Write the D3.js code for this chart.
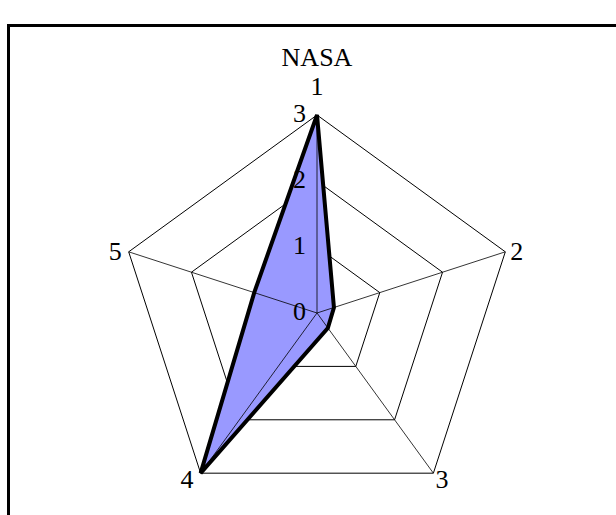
<!DOCTYPE html>
<html>
<head>
<meta charset="utf-8">
<script src="https://cdn.jsdelivr.net/npm/d3@7"></script>
<style>
  body { margin: 0; background: #fff; }
  svg text { font-family: "Liberation Serif", "Times New Roman", serif; fill: #000; }
</style>
</head>
<body>
<script>
const categories = ['1', '2', '3', '4', '5'];
const values = [3, 0.27, 0.28, 3, 1];
const ticks = [0, 1, 2, 3];
const title = 'NASA';

const width = 616;
const height = 515;
const cx = 317, cy = 313, radius = 198;
const fontSize = 26;

const svg = d3.select('body').append('svg')
    .attr('width', width)
    .attr('height', height);

// outer frame (runs off the right and bottom edges)
svg.append('rect')
    .attr('x', 8.5).attr('y', 25.5)
    .attr('width', 700).attr('height', 600)
    .attr('fill', 'none')
    .attr('stroke', '#000')
    .attr('stroke-width', 3);

const r = d3.scaleLinear().domain([0, 3]).range([0, radius]);
const angle = d3.scalePoint().domain(categories).range([0, 2 * Math.PI * 4 / 5]);

function pt(cat, v) {
    const a = angle(cat);
    return [cx + r(v) * Math.sin(a), cy - r(v) * Math.cos(a)];
}

const g = svg.append('g');

// rings
g.selectAll('.ring')
    .data(ticks.filter(t => t > 0))
    .enter().append('polygon')
    .attr('points', t => categories.map(c => pt(c, t).join(',')).join(' '))
    .attr('fill', 'none')
    .attr('stroke', '#000')
    .attr('stroke-width', 1);

// data polygon
g.append('polygon')
    .attr('points', categories.map((c, i) => pt(c, values[i]).join(',')).join(' '))
    .attr('fill', '#9999ff')
    .attr('stroke', '#000')
    .attr('stroke-width', 4)
    .attr('stroke-linejoin', 'miter');

// spokes
g.selectAll('.spoke')
    .data(categories)
    .enter().append('line')
    .attr('x1', cx).attr('y1', cy)
    .attr('x2', c => pt(c, 3)[0])
    .attr('y2', c => pt(c, 3)[1])
    .attr('stroke', '#000')
    .attr('stroke-width', 0.8);

// value tick labels along axis 1
g.selectAll('.tick')
    .data(ticks)
    .enter().append('text')
    .attr('x', cx - 11)
    .attr('y', t => cy - r(t))
    .attr('dy', '0.27em')
    .attr('text-anchor', 'end')
    .attr('font-size', fontSize)
    .text(t => t);

// category labels
const labelPos = {
    '1': { dx: 0, dy: -20, anchor: 'middle', base: 0 },
    '2': { dx: 5, dy: 0, anchor: 'start', base: 0.33 },
    '3': { dx: 2, dy: 6, anchor: 'start', base: 0.33 },
    '4': { dx: -7, dy: 6, anchor: 'end', base: 0.33 },
    '5': { dx: -7, dy: 0, anchor: 'end', base: 0.33 }
};
g.selectAll('.cat')
    .data(categories)
    .enter().append('text')
    .attr('x', c => pt(c, 3)[0] + labelPos[c].dx)
    .attr('y', c => pt(c, 3)[1] + labelPos[c].dy)
    .attr('dy', c => labelPos[c].base + 'em')
    .attr('text-anchor', c => labelPos[c].anchor)
    .attr('font-size', fontSize)
    .text(c => c);

svg.append('text')
    .attr('x', cx)
    .attr('y', 66)
    .attr('text-anchor', 'middle')
    .attr('font-size', fontSize)
    .text(title);
</script>
</body>
</html>
